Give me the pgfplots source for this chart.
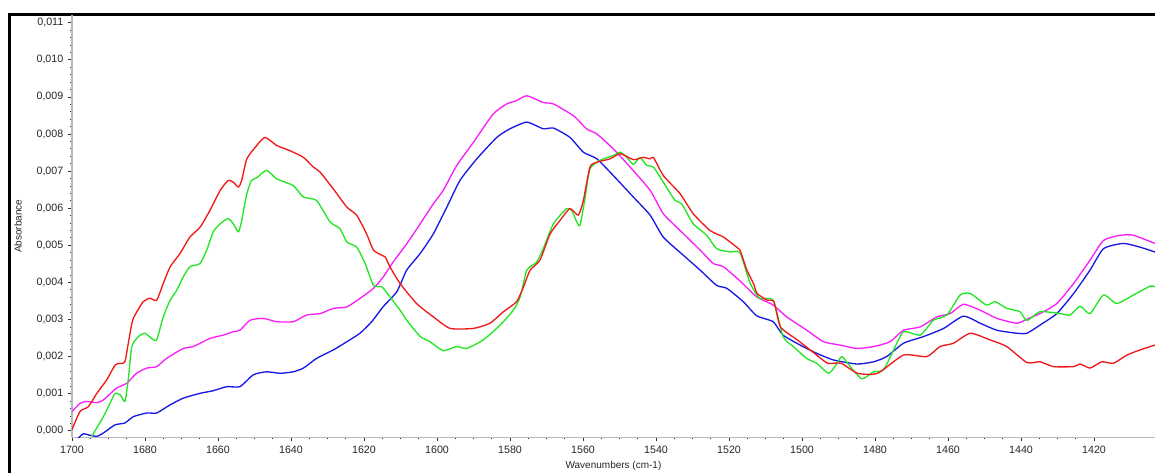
\documentclass[border=0pt]{standalone}
\usepackage{pgfplots}
\pgfplotsset{compat=1.18}
\usepackage{fontspec}
\setmainfont{Liberation Sans}

\definecolor{cred}{RGB}{240,25,25}
\definecolor{cgreen}{RGB}{35,230,35}
\definecolor{cblue}{RGB}{25,25,230}
\definecolor{cmag}{RGB}{250,30,250}

\begin{document}
\begin{tikzpicture}
% picture size: 1 px of the reference = 0.75pt
\useasboundingbox (-54pt,-26.6pt) rectangle (812.25pt,328.1pt);
\draw[line width=2.2pt,black] (-46.9pt,-27pt) -- (-46.9pt,317.4pt) -- (813pt,317.4pt);
\begin{axis}[
    at={(0pt,0pt)}, anchor=south west,
    scale only axis,
    width=812.25pt, height=316.9pt,
    x dir=reverse,
    xmin=1403.3, xmax=1700,
    ymin=-0.00018, ymax=0.01121,
    axis x line=bottom, axis y line=left,
    axis line style={-, draw=gray!55, line width=1.2pt},
    xtick={1420,1440,...,1700},
    ytick={0,0.001,0.002,0.003,0.004,0.005,0.006,0.007,0.008,0.009,0.010,0.011},
    minor x tick num=3,
    minor y tick num=4,
    tick align=outside,
    major tick length=3pt, minor tick length=1.5pt,
    tick style={black!80, line width=0.6pt},
    scaled y ticks=false,
    yticklabel style={/pgf/number format/.cd, fixed, fixed zerofill, precision=3, use comma},
    xticklabel style={/pgf/number format/set thousands separator={}},
    /pgf/number format/assume math mode=true,
    ticklabel style={font=\fontsize{8}{9}\selectfont, text=black!85},
    xlabel={Wavenumbers (cm-1)},
    ylabel={Absorbance},
    every axis x label/.style={at={(axis description cs:0.5,-0.0675)}, anchor=center, font=\fontsize{7.5}{9}\selectfont, text=black!85},
    every axis y label/.style={at={(axis description cs:-0.0499,0.5)}, rotate=90, anchor=center, font=\fontsize{7.5}{9}\selectfont, text=black!85},
    every axis plot/.append style={line width=1pt, line join=round, smooth, tension=0.35},
]
% blue
\addplot[cblue] coordinates {
(1698.3,-0.00020) (1696.9,-0.00008) (1695.5,-0.00011) (1693.2,-0.00015) (1691.4,-0.00006)
(1688.2,0.00016) (1685.5,0.00021) (1683.2,0.00038) (1679.5,0.00048) (1676.8,0.00048)
(1673.1,0.00070) (1669.5,0.00088) (1664.9,0.00101) (1661.3,0.00108) (1657.6,0.00119)
(1654.0,0.00119) (1650.3,0.00151) (1646.7,0.00159) (1643.0,0.00155) (1639.4,0.00159)
(1636.6,0.00169) (1633.0,0.00195) (1628.4,0.00218) (1624.7,0.00240) (1621.1,0.00263)
(1617.9,0.00294) (1614.7,0.00335) (1611.0,0.00375) (1608.3,0.00433) (1604.6,0.00478)
(1601.0,0.00531) (1597.3,0.00603) (1593.7,0.00675) (1589.1,0.00733) (1583.6,0.00791)
(1580.0,0.00814) (1575.4,0.00832) (1570.9,0.00814) (1568.1,0.00816) (1563.6,0.00791)
(1559.9,0.00751) (1556.2,0.00733) (1551.7,0.00688) (1546.2,0.00630) (1541.6,0.00581)
(1538.0,0.00522) (1532.5,0.00473) (1527.9,0.00433) (1523.4,0.00392) (1520.6,0.00384)
(1516.1,0.00348) (1512.4,0.00310) (1507.9,0.00294) (1505.2,0.00258) (1500.5,0.00231)
(1496.0,0.00209) (1491.4,0.00191) (1485.0,0.00180) (1480.4,0.00186) (1476.8,0.00200)
(1472.2,0.00236) (1466.7,0.00254) (1461.2,0.00276) (1455.8,0.00309) (1451.2,0.00290)
(1446.6,0.00271) (1441.2,0.00263) (1438.4,0.00263) (1434.8,0.00285) (1430.2,0.00316)
(1425.6,0.00370) (1421.1,0.00433) (1417.4,0.00491) (1412.0,0.00505) (1407.4,0.00495)
(1403.3,0.00482)
};
% magenta
\addplot[cmag] coordinates {
(1700.0,0.00052) (1697.8,0.00074) (1696.0,0.00079) (1693.2,0.00076) (1691.4,0.00083)
(1687.8,0.00115) (1685.0,0.00128) (1682.3,0.00155) (1679.5,0.00169) (1676.8,0.00173)
(1674.1,0.00195) (1669.5,0.00222) (1666.8,0.00227) (1662.2,0.00249) (1658.5,0.00258)
(1655.8,0.00267) (1654.0,0.00271) (1651.2,0.00298) (1647.6,0.00303) (1643.9,0.00294)
(1639.4,0.00294) (1635.7,0.00312) (1632.0,0.00316) (1628.4,0.00330) (1624.7,0.00334)
(1621.1,0.00357) (1617.4,0.00384) (1614.7,0.00415) (1612.0,0.00455) (1608.3,0.00504)
(1604.6,0.00558) (1601.0,0.00612) (1598.3,0.00648) (1594.6,0.00715) (1590.0,0.00778)
(1584.6,0.00854) (1580.9,0.00881) (1578.2,0.00890) (1575.4,0.00903) (1570.9,0.00885)
(1568.1,0.00881) (1562.6,0.00849) (1559.0,0.00814) (1556.2,0.00800) (1551.7,0.00760)
(1547.1,0.00711) (1541.6,0.00648) (1538.0,0.00585) (1533.4,0.00540) (1527.9,0.00487)
(1524.3,0.00451) (1521.5,0.00442) (1517.0,0.00404) (1512.4,0.00361) (1507.9,0.00339)
(1504.2,0.00307) (1498.7,0.00271) (1494.1,0.00240) (1489.6,0.00231) (1485.0,0.00222)
(1480.4,0.00227) (1475.9,0.00240) (1472.2,0.00271) (1467.6,0.00280) (1463.1,0.00307)
(1459.4,0.00316) (1455.8,0.00341) (1451.2,0.00325) (1446.6,0.00303) (1441.2,0.00290)
(1438.4,0.00301) (1434.8,0.00316) (1430.2,0.00343) (1425.6,0.00397) (1421.1,0.00460)
(1417.4,0.00513) (1412.8,0.00527) (1409.2,0.00527) (1403.3,0.00505)
};
% green
\addplot[cgreen] coordinates {
(1694.6,-0.00015) (1691.4,0.00038) (1689.6,0.00074) (1688.2,0.00101) (1686.8,0.00097)
(1685.5,0.00079) (1684.6,0.00137) (1683.6,0.00227) (1681.8,0.00254) (1680.0,0.00263)
(1678.2,0.00249) (1676.8,0.00245) (1675.0,0.00307) (1673.1,0.00352) (1671.3,0.00379)
(1669.5,0.00415) (1667.7,0.00442) (1664.9,0.00451) (1663.1,0.00487) (1661.3,0.00536)
(1659.4,0.00558) (1657.2,0.00572) (1655.8,0.00558) (1654.4,0.00536) (1653.5,0.00567)
(1652.1,0.00639) (1650.8,0.00675) (1649.4,0.00682) (1646.7,0.00702) (1643.9,0.00679)
(1639.4,0.00661) (1636.6,0.00630) (1633.0,0.00621) (1629.3,0.00563) (1626.6,0.00545)
(1624.7,0.00509) (1622.0,0.00495) (1619.7,0.00451) (1617.4,0.00392) (1615.1,0.00388)
(1612.9,0.00361) (1610.1,0.00325) (1608.3,0.00298) (1604.6,0.00254) (1601.9,0.00240)
(1598.3,0.00216) (1594.6,0.00227) (1591.9,0.00222) (1587.3,0.00245) (1582.7,0.00285)
(1579.1,0.00325) (1577.2,0.00361) (1575.4,0.00433) (1572.7,0.00455) (1570.9,0.00491)
(1568.1,0.00558) (1564.5,0.00599) (1563.1,0.00594) (1561.7,0.00563) (1560.8,0.00554)
(1559.4,0.00630) (1558.1,0.00706) (1555.3,0.00729) (1551.7,0.00742) (1549.8,0.00751)
(1548.0,0.00737) (1546.2,0.00718) (1544.4,0.00736) (1542.5,0.00715) (1540.7,0.00711)
(1538.0,0.00670) (1534.8,0.00621) (1533.0,0.00612) (1529.8,0.00558) (1526.1,0.00527)
(1523.4,0.00491) (1519.7,0.00482) (1517.0,0.00480) (1514.3,0.00400) (1511.6,0.00357)
(1507.9,0.00352) (1505.2,0.00254) (1502.4,0.00227) (1498.7,0.00195) (1496.0,0.00182)
(1492.8,0.00155) (1491.0,0.00173) (1489.1,0.00200) (1486.8,0.00173) (1483.6,0.00140)
(1480.4,0.00159) (1477.7,0.00164) (1474.9,0.00218) (1472.2,0.00267) (1467.6,0.00258)
(1464.0,0.00298) (1460.3,0.00312) (1456.7,0.00366) (1453.9,0.00370) (1449.5,0.00339)
(1447.1,0.00348) (1443.9,0.00330) (1440.3,0.00321) (1438.4,0.00297) (1434.8,0.00321)
(1429.3,0.00316) (1426.6,0.00312) (1423.8,0.00336) (1421.1,0.00316) (1417.4,0.00366)
(1413.8,0.00343) (1409.2,0.00366) (1404.6,0.00390) (1403.3,0.00388)
};
% red
\addplot[cred] coordinates {
(1700.0,0.00003) (1697.8,0.00052) (1695.5,0.00065) (1693.2,0.00101) (1690.5,0.00137)
(1688.2,0.00177) (1686.8,0.00182) (1685.5,0.00186) (1684.1,0.00263) (1683.2,0.00303)
(1680.5,0.00348) (1678.6,0.00357) (1676.8,0.00352) (1675.0,0.00397) (1673.1,0.00442)
(1670.4,0.00478) (1667.7,0.00522) (1664.9,0.00549) (1662.2,0.00594) (1659.4,0.00648)
(1657.2,0.00675) (1655.8,0.00670) (1654.4,0.00657) (1653.5,0.00675) (1652.1,0.00733)
(1649.4,0.00769) (1647.1,0.00791) (1643.9,0.00769) (1640.3,0.00755) (1636.6,0.00737)
(1633.9,0.00711) (1632.0,0.00697) (1628.4,0.00652) (1624.7,0.00603) (1622.0,0.00581)
(1619.3,0.00531) (1617.4,0.00487) (1615.1,0.00473) (1614.2,0.00469) (1612.9,0.00442)
(1610.1,0.00397) (1605.6,0.00343) (1601.0,0.00307) (1596.4,0.00276) (1590.0,0.00276)
(1585.5,0.00290) (1581.8,0.00321) (1578.2,0.00348) (1576.3,0.00388) (1574.5,0.00433)
(1571.8,0.00460) (1569.0,0.00531) (1566.3,0.00567) (1563.6,0.00599) (1561.3,0.00581)
(1559.9,0.00621) (1558.1,0.00711) (1556.2,0.00724) (1552.6,0.00733) (1549.8,0.00747)
(1546.2,0.00731) (1543.5,0.00737) (1541.6,0.00733) (1540.7,0.00737) (1538.0,0.00688)
(1533.4,0.00639) (1529.8,0.00585) (1525.2,0.00540) (1521.5,0.00522) (1517.9,0.00495)
(1517.0,0.00487) (1515.1,0.00433) (1513.3,0.00397) (1512.3,0.00370) (1509.5,0.00352)
(1507.7,0.00348) (1505.9,0.00280) (1501.3,0.00245) (1496.6,0.00209) (1493.0,0.00182)
(1489.3,0.00182) (1484.8,0.00155) (1479.3,0.00155) (1472.2,0.00204) (1465.8,0.00200)
(1462.2,0.00227) (1458.5,0.00236) (1453.9,0.00263) (1448.5,0.00245) (1443.9,0.00227)
(1438.4,0.00184) (1434.8,0.00186) (1431.1,0.00173) (1425.6,0.00173) (1423.8,0.00180)
(1421.1,0.00169) (1417.9,0.00186) (1414.7,0.00182) (1411.0,0.00204) (1407.4,0.00218)
(1403.3,0.00231)
};
\end{axis}
\end{tikzpicture}
\end{document}
